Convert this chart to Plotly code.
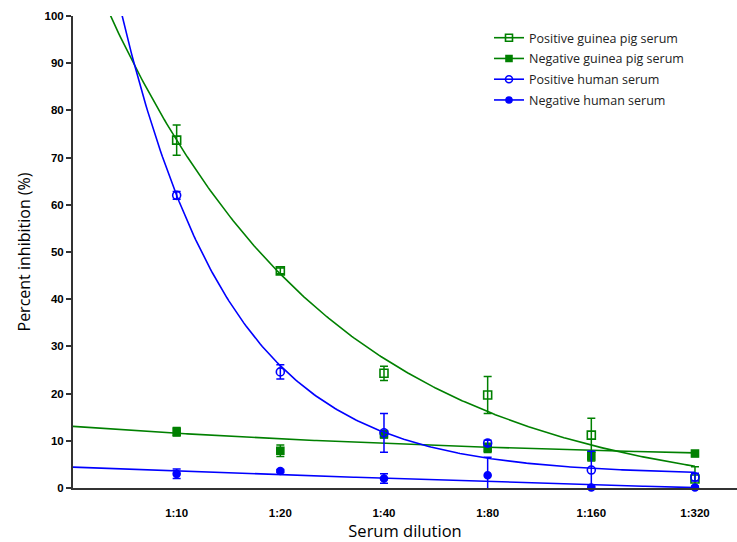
import numpy as np
import plotly.graph_objects as go

# Serum dilutions (reciprocal titre) and their tick labels
dilutions = [10, 20, 40, 80, 160, 320]
dilution_labels = ["1:10", "1:20", "1:40", "1:80", "1:160", "1:320"]

# Mean percent inhibition and error (SD) per dilution
pos_guinea = [73.7, 46.0, 24.3, 19.7, 11.2, 1.9]
pos_guinea_err = [3.2, 0.6, 1.5, 3.9, 3.6, 2.6]
neg_guinea = [11.9, 7.9, 11.4, 8.5, 6.7, 7.3]
neg_guinea_err = [0.9, 1.2, 0.8, 1.0, 1.0, 0.6]
pos_human = [62.0, 24.6, 11.7, 9.5, 3.8, 2.3]
pos_human_err = [0.8, 1.5, 4.1, 0.6, 4.0, 0.8]
neg_human = [3.0, 3.6, 2.0, 2.7, 0.1, 0.1]
neg_human_err = [1.0, 0.3, 1.0, 3.8, 0.3, 0.3]

# One-phase decay fits: y = span * rate**(doublings from 1:10) + plateau
fit_pos_guinea = dict(span=76.7, rate=0.63, plateau=-3.0)
fit_neg_guinea = dict(span=6.6, rate=0.82, plateau=5.0)
fit_pos_human = dict(span=59.2, rate=0.39, plateau=2.8)
fit_neg_human = dict(span=15.6, rate=0.95, plateau=-12.0)

GREEN = "#008000"
BLUE = "#0000FF"
FONT = "Open Sans"
TICK_FONT = "Liberation Sans"

d_curve = np.logspace(np.log10(5), np.log10(320), 300)


def decay(d, span, rate, plateau):
    return span * rate ** np.log2(d / 10.0) + plateau


series = [
    ("Positive guinea pig serum", pos_guinea, pos_guinea_err, fit_pos_guinea,
     GREEN, "square-open", 8),
    ("Negative guinea pig serum", neg_guinea, neg_guinea_err, fit_neg_guinea,
     GREEN, "square", 7),
    ("Positive human serum", pos_human, pos_human_err, fit_pos_human,
     BLUE, "circle-open", 8),
    ("Negative human serum", neg_human, neg_human_err, fit_neg_human,
     BLUE, "circle", 7),
]

fig = go.Figure()
for name, vals, errs, fit, color, symbol, size in series:
    fig.add_trace(go.Scatter(
        x=d_curve, y=decay(d_curve, **fit), mode="lines",
        line=dict(color=color, width=1.6), showlegend=False, hoverinfo="skip"))
    fig.add_trace(go.Scatter(
        x=dilutions, y=vals, mode="markers",
        marker=dict(symbol=symbol, size=size, color=color,
                    line=dict(color=color, width=1.6)),
        error_y=dict(type="data", array=errs, visible=True, color=color,
                     thickness=1.5, width=4),
        cliponaxis=False, showlegend=False, name=name))
    fig.add_trace(go.Scatter(
        x=[None], y=[None], mode="lines+markers", name=name, legendgroup=name,
        line=dict(color=color, width=1.6),
        marker=dict(symbol=symbol, size=size - 1, color=color,
                    line=dict(color=color, width=1.6))))

fig.update_layout(
    width=737, height=542,
    margin=dict(l=73, r=0, t=16, b=54),
    plot_bgcolor="white", paper_bgcolor="white",
    font=dict(family=FONT, color="black"),
    legend=dict(x=0.6265, y=0.985, xanchor="left", yanchor="top",
                font=dict(family=FONT, size=12.5, color="#222"),
                bgcolor="rgba(0,0,0,0)", tracegroupgap=1.5, itemwidth=30),
    xaxis=dict(
        type="log", range=[np.log10(5), np.log10(423.8)],
        tickvals=dilutions, ticktext=dilution_labels,
        tickfont=dict(family=TICK_FONT, size=11.5, color="black", weight="bold"),
        ticks="", ticklabelstandoff=13,
        showline=True, linecolor="#333", linewidth=2,
        showgrid=False, zeroline=False,
        title=dict(text="Serum dilution", font=dict(family=FONT, size=16.5),
                   standoff=12),
    ),
    yaxis=dict(
        range=[0, 100], tickvals=list(range(0, 101, 10)),
        tickfont=dict(family=TICK_FONT, size=11.5, color="black", weight="bold"),
        ticks="outside", ticklen=5, tickwidth=2, tickcolor="#333",
        showline=True, linecolor="#333", linewidth=2,
        showgrid=False, zeroline=False,
        title=dict(text="Percent inhibition (%)",
                   font=dict(family=FONT, size=16), standoff=10),
    ),
)

fig.write_html("out.html")
